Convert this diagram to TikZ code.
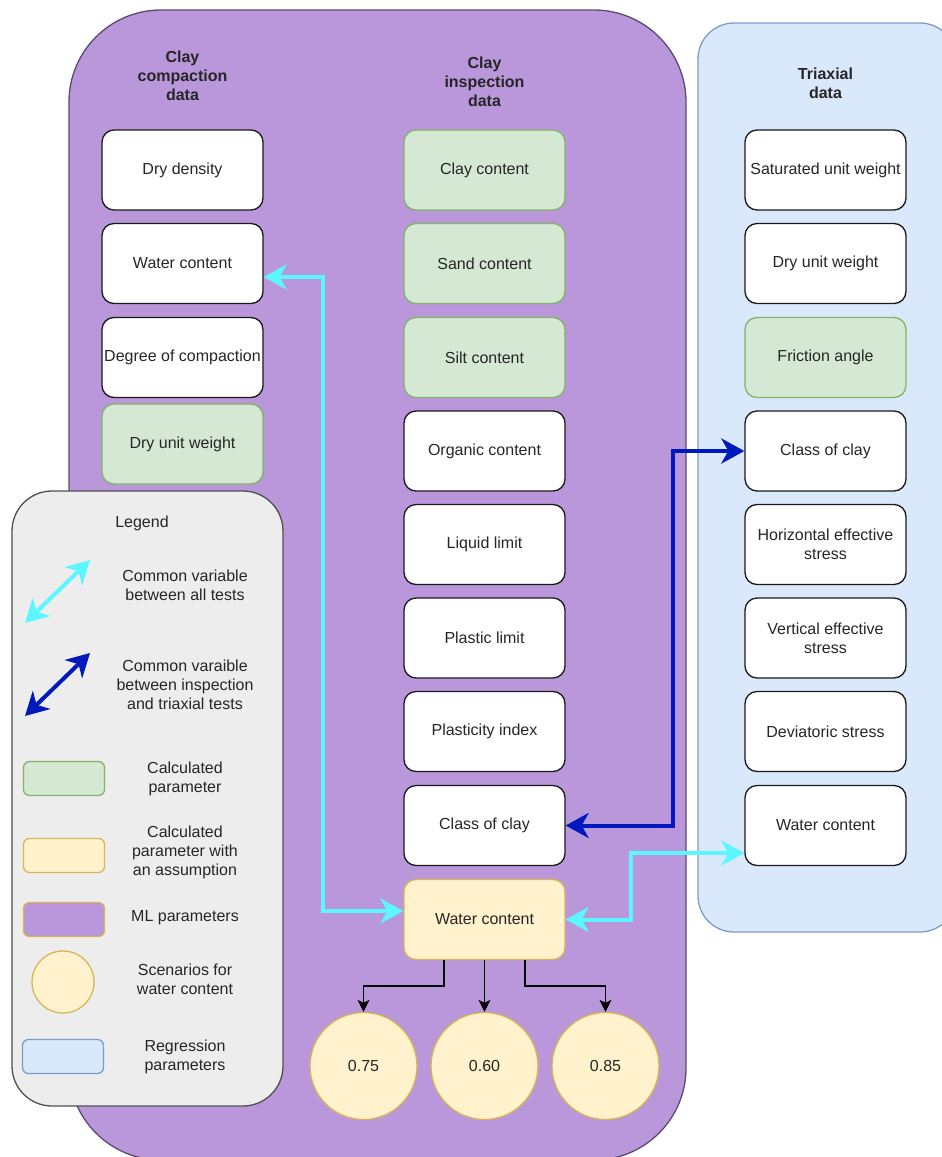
\documentclass[tikz,border=0pt]{standalone}
\usepackage{fontspec}
\setmainfont{Liberation Sans}
\usetikzlibrary{arrows.meta,calc}

\definecolor{mlfill}{HTML}{BA97DB}
\definecolor{mlline}{HTML}{5B4A6E}
\definecolor{regfill}{HTML}{DAE8FC}
\definecolor{regline}{HTML}{7C9CCB}
\definecolor{calcfill}{HTML}{D5E8D4}
\definecolor{calcline}{HTML}{82B366}
\definecolor{assfill}{HTML}{FFF2CC}
\definecolor{assline}{HTML}{D6B656}
\definecolor{legfill}{HTML}{EDEDED}
\definecolor{legline}{HTML}{505050}
\definecolor{allvar}{HTML}{5CF6FF}
\definecolor{insvar}{HTML}{0019BC}
\definecolor{txt}{HTML}{262626}

\tikzset{
  base/.style={font=\fontsize{16}{19}\selectfont, text=txt, align=center},
  param/.style={base, draw=black!90, line width=1.3pt, fill=white,
    rounded corners=12pt, minimum width=161pt, minimum height=80pt, inner sep=1pt},
  calcp/.style={param, draw=calcline, fill=calcfill},
  assp/.style={param, draw=assline, fill=assfill},
  scen/.style={base, circle, draw=assline, fill=assfill, line width=1.3pt, minimum size=107pt},
  header/.style={base, font=\fontsize{16}{19}\selectfont\bfseries},
  legtext/.style={base},
  swatch/.style={draw, line width=1.3pt, rounded corners=6pt, minimum width=81pt, minimum height=34pt},
  allarrow/.style={draw=allvar, line width=4pt,
    {Stealth[length=23pt,width=25pt,inset=7pt]}-{Stealth[length=23pt,width=25pt,inset=7pt]}},
  insarrow/.style={draw=insvar, line width=4pt,
    {Stealth[length=23pt,width=25pt,inset=7pt]}-{Stealth[length=23pt,width=25pt,inset=7pt]}},
  branch/.style={draw=black, line width=1.3pt, -{Stealth[length=12pt,width=12pt,inset=3pt]}},
}

\begin{document}
\begin{tikzpicture}[x=1pt,y=-1pt]
\useasboundingbox (0,0) rectangle (942,1157);
\clip (0,0) rectangle (942,1157);

% group containers
\draw[fill=mlfill, draw=mlline, line width=1.3pt, rounded corners=92pt] (69,10) rectangle (686,1160);
\draw[fill=regfill, draw=regline, line width=1.3pt, rounded corners=36pt] (698,23) rectangle (956,932);

% column headers
\node[header] (hcomp) at (182.5,76) {Clay\\compaction\\data};
\node[header] (hinsp) at (484.5,82) {Clay\\inspection\\data};
\node[header] (htri)  at (825.5,83) {Triaxial\\data};

% clay compaction data
\node[param] (cDry)  at (182.5,170)   {Dry density};
\node[param] (cWat)  at (182.5,263.5) {Water content};
\node[param] (cDeg)  at (182.5,357.5) {Degree of compaction};
\node[calcp] (cUnit) at (182.5,444)   {Dry unit weight};

% clay inspection data
\node[calcp] (iClay) at (484.5,170)   {Clay content};
\node[calcp] (iSand) at (484.5,263.5) {Sand content};
\node[calcp] (iSilt) at (484.5,357.5) {Silt content};
\node[param] (iOrg)  at (484.5,451)   {Organic content};
\node[param] (iLL)   at (484.5,544.5) {Liquid limit};
\node[param] (iPL)   at (484.5,638)   {Plastic limit};
\node[param] (iPI)   at (484.5,731.5) {Plasticity index};
\node[param] (iCls)  at (484.5,825.5) {Class of clay};
\node[assp]  (iWat)  at (484.5,919.5) {Water content};

% triaxial data
\node[param] (tSat)  at (825.5,170)   {Saturated unit weight};
\node[param] (tDry)  at (825.5,263.5) {Dry unit weight};
\node[calcp] (tFri)  at (825.5,357.5) {Friction angle};
\node[param] (tCls)  at (825.5,451)   {Class of clay};
\node[param] (tHor)  at (825.5,544.5) {Horizontal effective\\stress};
\node[param] (tVer)  at (825.5,638)   {Vertical effective\\stress};
\node[param] (tDev)  at (825.5,731.5) {Deviatoric stress};
\node[param] (tWat)  at (825.5,825.5) {Water content};

% water content scenarios
\node[scen] (s75) at (363.5,1066) {0.75};
\node[scen] (s60) at (484.5,1066) {0.60};
\node[scen] (s85) at (605.5,1066) {0.85};

% bend points of the connectors
\coordinate (wl1) at (323,277);
\coordinate (wl2) at (323,911);
\coordinate (wr1) at (631,919.5);
\coordinate (wr2) at (631,853);
\coordinate (cb1) at (673,825.5);
\coordinate (cb2) at (673,451);
\coordinate (bl)  at (444,986);
\coordinate (br)  at (525,986);

% common variable between all tests
\draw[allarrow] ([yshift=-13.5pt]cWat.east) -- (wl1) -- (wl2) -- ([yshift=8.5pt]iWat.west);
\draw[allarrow] (iWat.east) -- (wr1) -- (wr2) -- ([yshift=-27.5pt]tWat.west);
% common variable between inspection and triaxial tests
\draw[insarrow] (iCls.east) -- (cb1) -- (cb2) -- (tCls.west);

% scenario branches
\draw[branch] (iWat.south -| bl) -- (bl) -| (s75.north);
\draw[branch] (iWat.south) -- (s60.north);
\draw[branch] (iWat.south -| br) -- (br) -| (s85.north);

% legend
\draw[fill=legfill, draw=legline, line width=1.3pt, rounded corners=40pt] (12,491) rectangle (283,1106);
\node[legtext] (lTitle) at (142,523) {Legend};

\coordinate (la1) at (25,623);
\coordinate (la2) at (90,560);
\draw[allarrow] (la1) -- (la2);
\node[legtext] (lAll) at (185,585) {Common variable\\between all tests};

\coordinate (lb1) at (25,716);
\coordinate (lb2) at (90,653);
\draw[insarrow] (lb1) -- (lb2);
\node[legtext] (lIns) at (185,685) {Common varaible\\between inspection\\and triaxial tests};

\node[swatch, draw=calcline, fill=calcfill] (kCalc) at (64,778.5) {};
\node[legtext] (lCalc) at (185,778.5) {Calculated\\parameter};

\node[swatch, draw=assline, fill=assfill] (kAss) at (64,855.5) {};
\node[legtext] (lAss) at (185,852) {Calculated\\parameter with\\an assumption};

\node[swatch, draw=assline, fill=mlfill] (kML) at (64,919.5) {};
\node[legtext] (lML) at (185,918) {ML parameters};

\node[circle, draw=assline, fill=assfill, line width=1.3pt, minimum size=62pt] (kScen) at (63,982) {};
\node[legtext] (lScen) at (185,979) {Scenarios for\\water content};

\node[swatch, draw=regline, fill=regfill] (kReg) at (63,1056.5) {};
\node[legtext] (lReg) at (185,1057) {Regression\\parameters};

\end{tikzpicture}
\end{document}
